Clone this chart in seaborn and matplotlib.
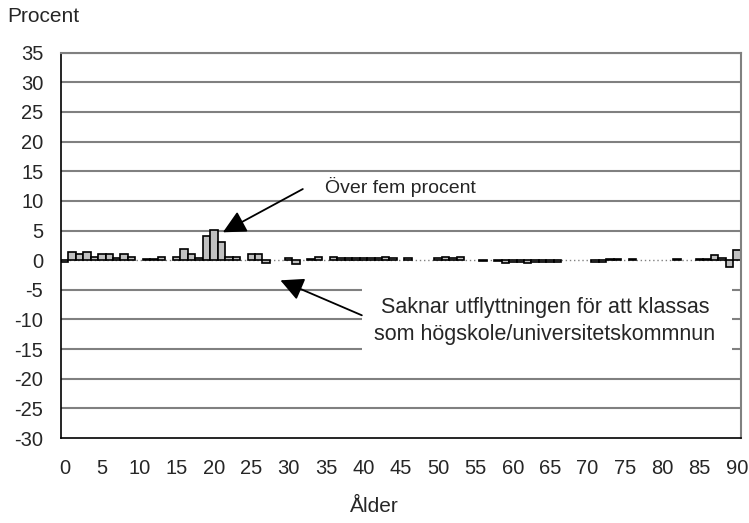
import numpy as np
import pandas as pd
import matplotlib
matplotlib.use("Agg")
import matplotlib.pyplot as plt
import seaborn as sns
from matplotlib.patches import Rectangle

# data: avvikelse i procent per ålder 0-90
alder = list(range(0, 91))
procent = [
    -0.3, 1.4, 1.1, 1.4, 0.6, 1.0, 1.0, 0.4, 1.1, 0.6,   # 0-9
    0.0, 0.2, 0.2, 0.6, 0.0, 0.5, 1.8, 1.0, 0.3, 4.0,    # 10-19
    5.1, 3.1, 0.6, 0.5, 0.0, 1.0, 1.0, -0.5, 0.0, 0.0,   # 20-29
    0.3, -0.6, 0.0, 0.2, 0.6, 0.0, 0.5, 0.3, 0.3, 0.3,   # 30-39
    0.3, 0.3, 0.3, 0.5, 0.3, 0.0, 0.3, 0.0, 0.0, 0.0,    # 40-49
    0.3, 0.6, 0.3, 0.6, 0.0, 0.0, -0.2, 0.0, -0.2, -0.5, # 50-59
    -0.3, -0.3, -0.5, -0.3, -0.3, -0.3, -0.3, 0.0, 0.0, 0.0,  # 60-69
    0.0, -0.3, -0.3, 0.2, 0.2, 0.0, 0.2, 0.0, 0.0, 0.0,  # 70-79
    0.0, 0.0, 0.2, 0.0, 0.0, 0.2, 0.2, 0.9, 0.3, -1.1,   # 80-89
    1.7,                                                 # 90
]
y_ticks = list(range(-30, 36, 5))
x_ticks = list(range(0, 91, 5))

df = pd.DataFrame({"alder": alder, "procent": procent})

sns.set_style("white")
plt.rcParams["font.family"] = ["Liberation Sans", "DejaVu Sans"]

fig = plt.figure(figsize=(7.49, 5.23), dpi=100)
ax = fig.add_axes([60.7 / 749, 1 - 438 / 523, 680 / 749, (438 - 52.7) / 523])

grid_grey = "#808080"
for v in y_ticks:
    if v not in (0, -30):
        ax.axhline(v, color=grid_grey, lw=1.5, zorder=0)
ax.axhline(0, color=grid_grey, lw=1, ls=(0, (1, 2)), zorder=0.5)

sns.barplot(data=df, x="alder", y="procent", color="#c0c0c0",
            edgecolor="black", linewidth=1.2, width=1.0, saturation=1,
            ax=ax, zorder=2)
for p in ax.patches:
    if p.get_height() == 0:
        p.set_visible(False)

ax.set_xlim(-0.5, 90.5)
ax.set_ylim(-30, 35)
ax.set_yticks(y_ticks)
ax.set_yticklabels([str(v) for v in y_ticks], fontsize=14.5)
ax.set_xticks(x_ticks)
ax.set_xticklabels([str(v) for v in x_ticks], fontsize=14.5)
ax.set_xticks(np.arange(-0.5, 90, 5), minor=True)
ax.tick_params(axis="x", which="major", length=0, pad=15)
ax.tick_params(axis="x", which="minor", length=4, width=1, direction="out", color="black")
ax.tick_params(axis="y", length=4.5, width=1, direction="out", color="black", pad=8)
ax.set_xlabel("")
ax.set_ylabel("")

for s in ["left", "bottom"]:
    ax.spines[s].set_color("black")
    ax.spines[s].set_linewidth(1.2)
for s in ["top", "right"]:
    ax.spines[s].set_color(grid_grey)
    ax.spines[s].set_linewidth(1.5)

# annotation 1
ax.annotate("", xy=(21.2, 4.7), xytext=(31.9, 12.0),
            arrowprops=dict(arrowstyle="-|>,head_length=0.7,head_width=0.35",
                            color="black", lw=1.3, mutation_scale=20,
                            shrinkA=0, shrinkB=0), zorder=5)
ax.text(34.9, 12.4, "Över fem procent", fontsize=14, ha="left", va="center", zorder=5)

# annotation 2 with white box
ax.add_patch(Rectangle((39.8, -15.7), 89.4 - 39.8, 11.3, facecolor="white",
                       edgecolor="none", zorder=3))
ax.text(64.3, -10.2, "Saknar utflyttningen för att klassas\nsom högskole/universitetskommnun",
        fontsize=15.5, ha="center", va="center", linespacing=1.38, zorder=5)
ax.annotate("", xy=(28.9, -3.4), xytext=(39.8, -9.3),
            arrowprops=dict(arrowstyle="-|>,head_length=0.7,head_width=0.35",
                            color="black", lw=1.3, mutation_scale=20,
                            shrinkA=0, shrinkB=0), zorder=5)

fig.text(7 / 749, 1 - 16 / 523, "Procent", fontsize=15, ha="left", va="center")
fig.text(374 / 749, 1 - 507 / 523, "Ålder", fontsize=15, ha="center", va="center")

fig.savefig("out.png", dpi=100)
